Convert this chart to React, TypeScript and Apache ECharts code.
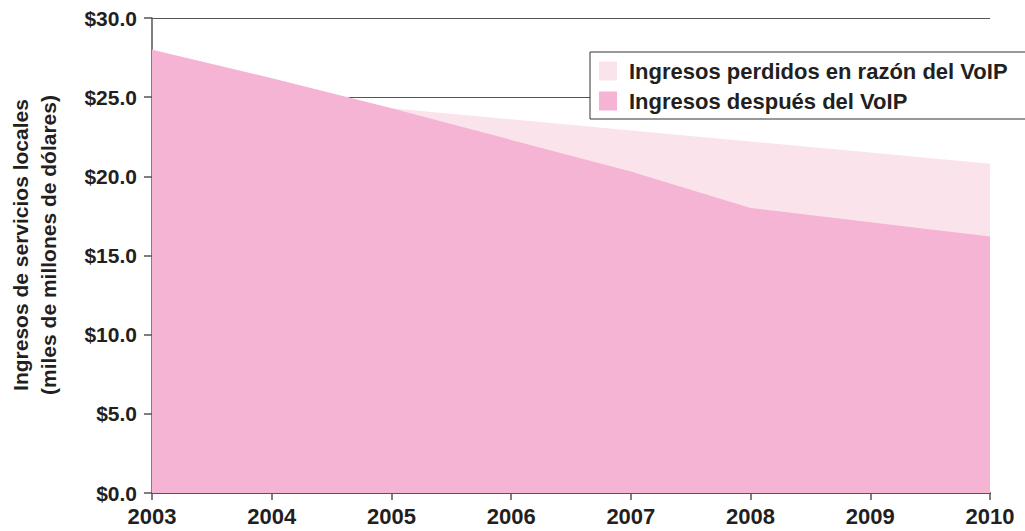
import React, { useEffect, useRef } from "react";
import * as echarts from "echarts";

const years = ["2003", "2004", "2005", "2006", "2007", "2008", "2009", "2010"];
// Revenue before VoIP losses (top boundary of the light area)
const revenueWithoutVoip = [28.0, 26.2, 24.3, 23.6, 22.9, 22.2, 21.5, 20.8];
// Revenue after VoIP
const revenueAfterVoip = [28.0, 26.2, 24.3, 22.3, 20.3, 18.0, 17.1, 16.2];
const seriesNames = ["Ingresos perdidos en razón del VoIP", "Ingresos después del VoIP"];
const yTitle = ["Ingresos de servicios locales", "(miles de millones de dólares)"];

const LIGHT = "#fbe3ec";
const DARK = "#f5b4d3";
const TEXT = "#231f20";
const LINE = "#555555";
const FONT = "'Liberation Sans', Arial, Helvetica, sans-serif";

export default function App() {
  const ref = useRef<HTMLDivElement>(null);
  useEffect(() => {
    document.body.style.margin = "0";
    const chart = echarts.init(ref.current!, null, { renderer: "svg" });
    chart.setOption({
      animation: false,
      textStyle: { fontFamily: FONT },
      grid: { left: 152, right: 35, top: 18, bottom: 38, containLabel: false },
      legend: {
        orient: "vertical",
        left: 590,
        top: 52,
        data: seriesNames,
        icon: "rect",
        itemWidth: 18,
        itemHeight: 19,
        itemGap: 8,
        padding: [8, 24, 7, 9],
        borderColor: "#333",
        borderWidth: 1,
        backgroundColor: "#ffffff",
        textStyle: { fontSize: 22, fontWeight: "bold", color: TEXT, fontFamily: FONT, padding: [0, 0, 0, 7] },
      },
      xAxis: {
        type: "category",
        data: years,
        boundaryGap: false,
        axisLine: { show: true, lineStyle: { color: LINE, width: 2 } },
        axisTick: { show: true, length: 7, lineStyle: { color: LINE, width: 1.5 } },
        axisLabel: { fontSize: 22, fontWeight: "bold", color: TEXT, margin: 12, fontFamily: FONT },
        splitLine: { show: false },
      },
      yAxis: {
        type: "value",
        min: 0,
        max: 30,
        interval: 5,
        axisLine: { show: true, lineStyle: { color: LINE, width: 1.5 } },
        axisTick: { show: true, length: 8, lineStyle: { color: LINE, width: 1.5 } },
        axisLabel: {
          fontSize: 21,
          fontWeight: "bold",
          color: TEXT,
          margin: 15,
          fontFamily: FONT,
          formatter: (v: number) => "$" + v.toFixed(1),
        },
        splitLine: { show: true, lineStyle: { color: LINE, width: 1.2 } },
      },
      graphic: [
        {
          type: "text",
          x: 34,
          y: 245,
          rotation: Math.PI / 2,
          style: {
            text: yTitle.join("\n"),
            fontSize: 21,
            fontWeight: "bold",
            fontFamily: FONT,
            fill: TEXT,
            lineHeight: 28,
            textAlign: "center",
            textVerticalAlign: "middle",
          },
        },
      ],
      series: [
        {
          name: seriesNames[0],
          type: "line",
          data: revenueWithoutVoip,
          symbol: "none",
          color: LIGHT,
          lineStyle: { width: 0 },
          areaStyle: { color: LIGHT, opacity: 1 },
        },
        {
          name: seriesNames[1],
          type: "line",
          data: revenueAfterVoip,
          symbol: "none",
          color: DARK,
          lineStyle: { width: 0 },
          areaStyle: { color: DARK, opacity: 1 },
        },
      ],
    });
    return () => chart.dispose();
  }, []);
  return (
    <div
      ref={ref}
      style={{ position: "absolute", left: 0, top: 0, width: 1025, height: 531 }}
    />
  );
}
